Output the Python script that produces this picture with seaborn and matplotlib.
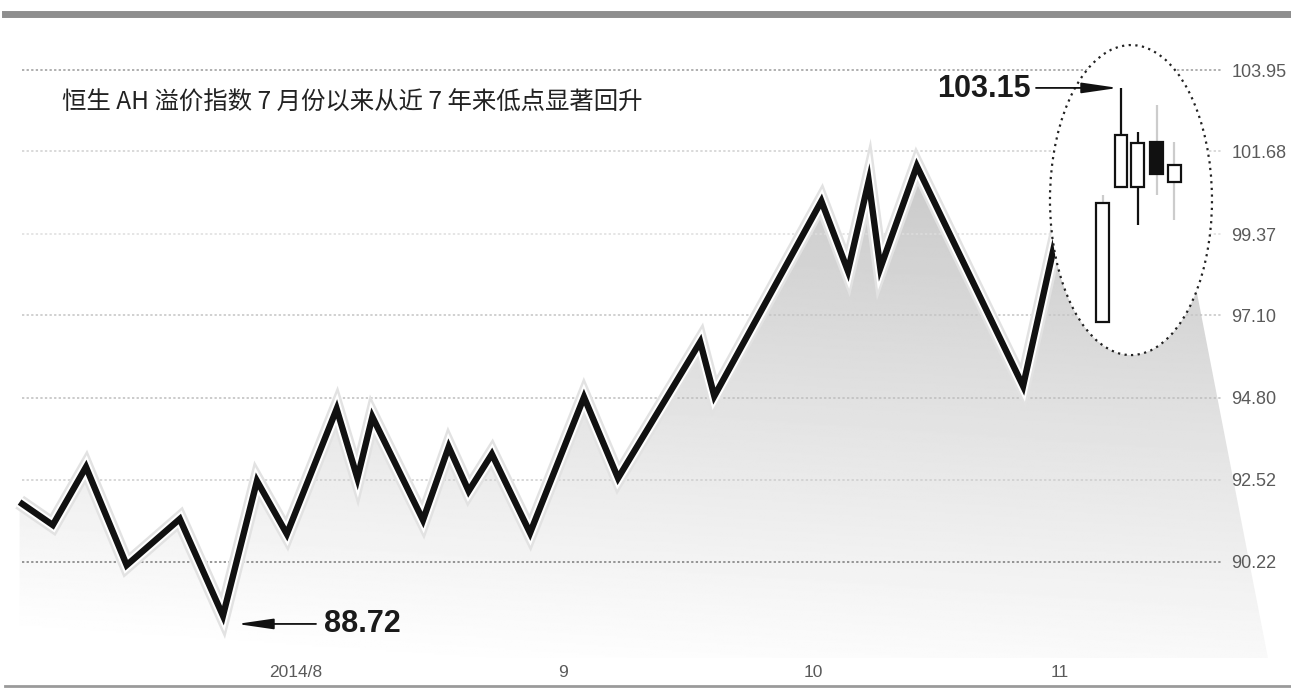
import numpy as np
import matplotlib
matplotlib.use("Agg")
import matplotlib.pyplot as plt
import seaborn as sns
from matplotlib.patches import Ellipse, Polygon, Rectangle
import matplotlib.patheffects as pe

# ---------------- data ----------------
# x: days relative to 2014-08-01 (approx.), y: Hang Seng AH premium index
day = [-33.3, -29.3, -25.3, -20.4, -14.0, -8.8, -4.7, -1.1, 4.9, 7.4, 9.2, 15.3,
       18.4, 20.8, 23.6, 28.2, 34.7, 38.8, 48.7, 50.4, 63.3, 66.5, 69.0, 70.4,
       74.8, 87.6, 92.1]
value = [91.89, 91.25, 92.87, 90.13, 91.42, 88.72, 92.48, 91.00, 94.49, 92.56,
         94.27, 91.39, 93.43, 92.20, 93.23, 91.03, 94.82, 92.56, 96.36, 94.85,
         100.29, 98.34, 100.85, 98.42, 101.27, 95.13, 99.82]

# shaded area continues to the right behind the circled candles
fill_tail_day = [108.3, 117.1]
fill_tail_value = [98.03, 87.54]
fill_floor = 87.54

# candlesticks inside the ellipse
candle_day = [97.2, 99.4, 101.4, 103.7, 105.8]
candle_open = [96.92, 100.68, 100.68, 101.94, 100.82]
candle_close = [100.24, 102.14, 101.91, 101.05, 101.30]
candle_high = [100.46, 103.45, 102.22, 102.97, 101.94]
candle_low = [96.92, 100.68, 99.62, 100.46, 99.76]

ytick_values = [103.95, 101.68, 99.37, 97.10, 94.80, 92.52, 90.22]
ytick_labels = ["103.95", "101.68", "99.37", "97.10", "94.80", "92.52", "90.22"]
xtick_pos = [0, 32.2, 62.3, 92.0]
xtick_labels = ["2014/8", "9", "10", "11"]

low_label = "88.72"
high_label = "103.15"
title = "恒生 AH 溢价指数 7 月份以来从近 7 年来低点显著回升"

# ---------------- style ----------------
sns.set_theme(style="white")
plt.rcParams["font.family"] = ["Liberation Sans", "Noto Sans CJK SC", "DejaVu Sans"]

W, H = 1291, 692
fig = plt.figure(figsize=(W / 100, H / 100), dpi=100)
fig.patch.set_facecolor("white")
ax = fig.add_axes([5 / W, 6 / H, 1 - 5 / W, 672 / H])
ax.set_facecolor("white")

XMIN, XMAX = -35.06, 119.88
YMIN, YMAX = 86.758, 105.513
ax.set_xlim(XMIN, XMAX)
ax.set_ylim(YMIN, YMAX)

def px2day(px):
    return (px - 296) / 8.3

# ---------------- gradient fill ----------------
poly_pts = list(zip(day, value)) + list(zip(fill_tail_day, fill_tail_value)) + [(day[0], fill_floor)]
poly = Polygon(poly_pts, closed=True, facecolor="none", edgecolor="none")
ax.add_patch(poly)
ny, nx = 400, 400
ys = np.linspace(YMIN, YMAX, ny)[:, None]
xs = np.linspace(XMIN, XMAX, nx)[None, :]
fy = np.clip((ys - 87.5) / (101.5 - 87.5), 0, 1)
fx = np.clip((xs - XMIN) / (XMAX - XMIN), 0, 1)
gray = 0.975 - 0.20 * fy + 0.035 * (1 - fx)
gray = np.clip(gray, 0, 1)
im = ax.imshow(gray, extent=(XMIN, XMAX, YMIN, YMAX), origin="lower", cmap="gray",
               vmin=0, vmax=1, aspect="auto", zorder=2, interpolation="bilinear")
im.set_clip_path(poly)

# ---------------- gridlines ----------------
grid_colors = ["#9a9a9a", "#cfcfcf", "#dedede", "#c4c4c4", "#bdbdbd", "#cdcdcd", "#7a7a7a"]
ax.hlines(ytick_values, px2day(22), px2day(1222), colors=grid_colors,
          linestyles=[(0, (1.5, 1.5))], linewidth=1.1, zorder=3)

# ---------------- main line ----------------
sns.lineplot(x=day, y=value, ax=ax, sort=False, color="#111111", linewidth=4.6,
             zorder=4, legend=False)
line = ax.lines[-1]
line.set_solid_joinstyle("miter")
line.set_solid_capstyle("butt")
line.set_path_effects([pe.Stroke(linewidth=11, foreground="#e2e2e2"),
                       pe.Stroke(linewidth=7.5, foreground="white"),
                       pe.Normal()])

# ---------------- ellipse with candlesticks ----------------
ell = Ellipse((100.6, 100.32), 19.52, 8.652, facecolor="white", edgecolor="#222222",
              linestyle=(0, (1, 2)), linewidth=1.6, zorder=5)
ax.add_patch(ell)

wick_colors = ["#cccccc", "#111111", "#111111", "#cccccc", "#cccccc"]
body_w = 1.56
for d, o, c, h, l, wc in zip(candle_day, candle_open, candle_close, candle_high,
                             candle_low, wick_colors):
    ax.vlines(d, l, h, colors=wc, linewidth=1.6, zorder=6)
    bull = c >= o
    ax.add_patch(Rectangle((d - body_w / 2, min(o, c)), body_w, abs(c - o),
                           facecolor="white" if bull else "#111111",
                           edgecolor="#111111", linewidth=1.6, zorder=7))

# ---------------- annotations ----------------
arrow_kw = dict(arrowstyle="-|>,head_length=1.1,head_width=0.16", color="#111111",
                lw=1.3, mutation_scale=20, shrinkA=0, shrinkB=0)
# low
ax.annotate("", xy=(px2day(237), 88.49), xytext=(px2day(316), 88.49),
            arrowprops=arrow_kw, zorder=8)
ax.text(px2day(324), 88.49, low_label, fontsize=22, fontweight="bold",
        color="#1a1a1a", va="center", ha="left", zorder=8)
# high
ax.annotate("", xy=(px2day(1118), 103.45), xytext=(px2day(1036), 103.45),
            arrowprops=arrow_kw, zorder=8)
ax.text(px2day(1031), 103.42, high_label, fontsize=22, fontweight="bold",
        color="#1a1a1a", va="center", ha="right", zorder=8)

# title
ax.text(px2day(62), 103.03, title, fontsize=17.6, color="#222222", va="center",
        ha="left", family=["Noto Sans CJK SC", "DejaVu Sans"], zorder=8)

# ---------------- axes ----------------
ax.yaxis.tick_right()
ax.set_yticks(ytick_values, ytick_labels)
ax.tick_params(axis="y", length=0, pad=-43, labelsize=13, labelcolor="#5a5a5a")
ax.set_xticks(xtick_pos, xtick_labels)
ax.tick_params(axis="x", length=0, pad=-15, labelsize=12.5, labelcolor="#5a5a5a")
ax.xaxis.set_zorder(10)
ax.yaxis.set_zorder(10)

for s in ("left", "right"):
    ax.spines[s].set_visible(False)
ax.spines["top"].set_color("#8e8e8e")
ax.spines["top"].set_linewidth(5)
ax.spines["bottom"].set_color("#9a9a9a")
ax.spines["bottom"].set_linewidth(2)
ax.set_xlabel("")
ax.set_ylabel("")

fig.savefig("out.png", dpi=100, facecolor="white")
